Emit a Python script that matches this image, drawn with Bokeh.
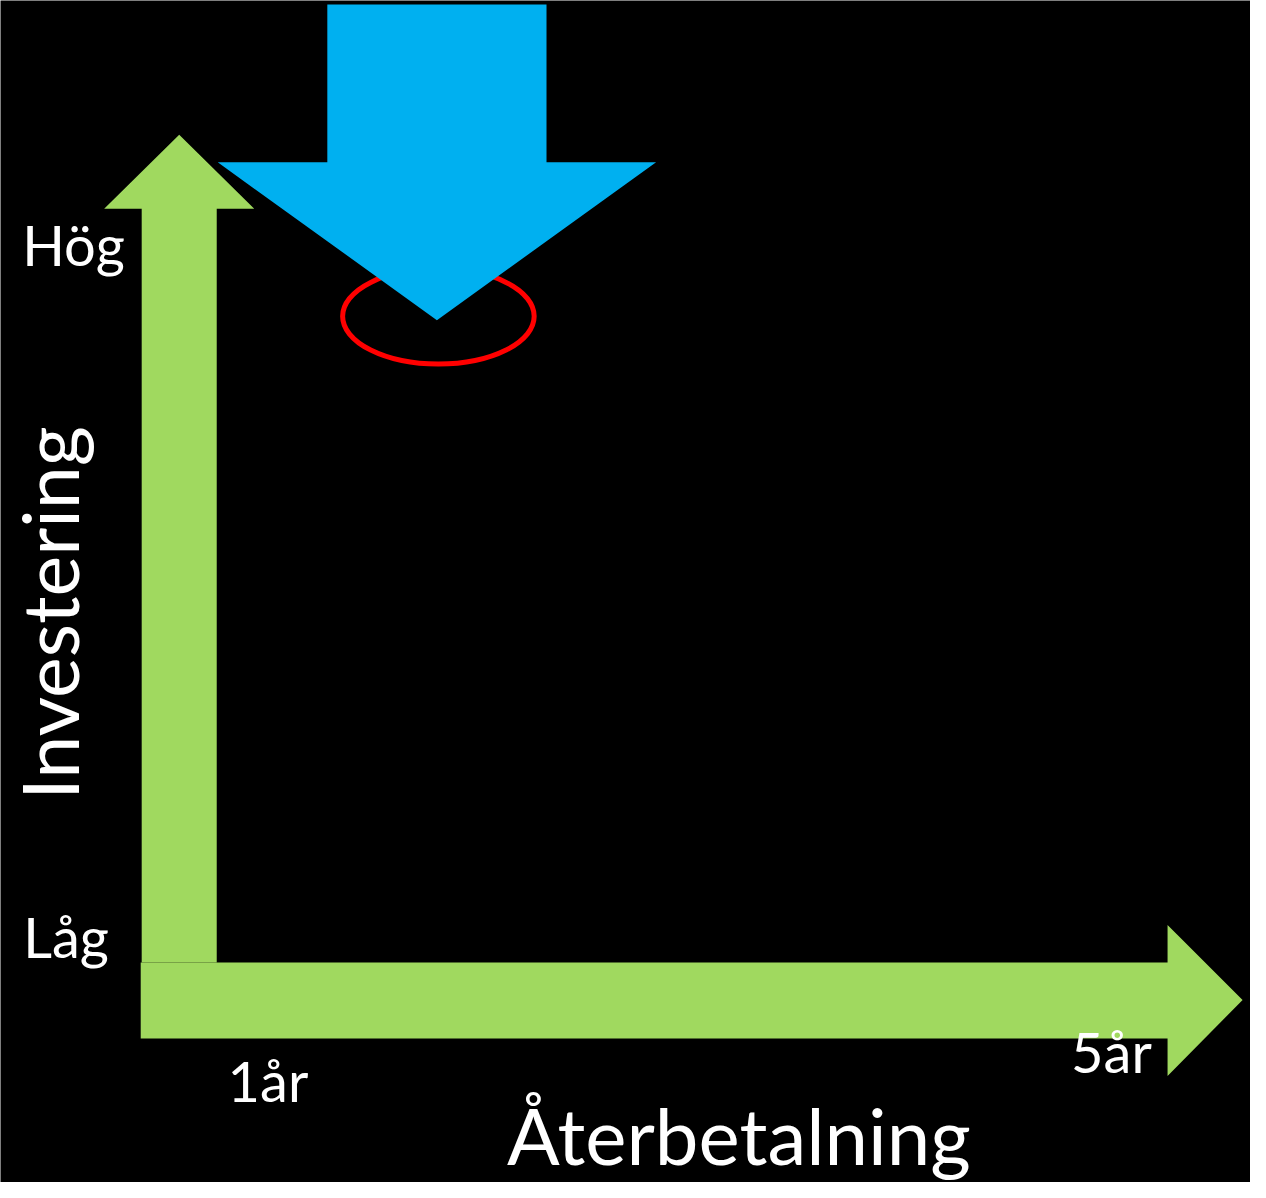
import math
from bokeh.plotting import figure
from bokeh.models import Range1d
from bokeh.core.properties import value
from bokeh.embed import file_html
from bokeh.resources import INLINE

# ---- diagram geometry (reference pixel space) ----
up_arrow_x = [143, 143, 105, 181, 257, 219, 219]
up_arrow_y = [975, 211, 211, 136, 211, 211, 975]
right_arrow_x = [142, 1182, 1182, 1258, 1182, 1182, 142]
right_arrow_y = [975, 975, 937, 1013, 1090, 1052, 1052]
down_arrow_x = [331, 553, 553, 664, 442, 220, 331]
down_arrow_y = [4, 4, 164, 164, 324, 164, 164]
ring_center = (443.5, 320)
ring_size = (194, 97)

# ---- labels ----
y_level_labels = ["Hög", "Låg"]
x_level_labels = ["1år", "5år"]
x_title = "Återbetalning"
y_title = "Investering"

GREEN = "#a0d95f"
BLUE = "#00b0f0"
FONT = "Lato"
W, H = 1250, 1182
REF_W, REF_H = 1266, 1198
S = W / REF_W
BASE_SHIFT = 0.42  # em, baseline correction


def base(pos, px):
    return pos - BASE_SHIFT * px / S


p = figure(width=W, height=H, output_backend="svg", toolbar_location=None,
           x_range=Range1d(0, REF_W), y_range=Range1d(REF_H, 0),
           background_fill_color="black", border_fill_color="black",
           min_border=0)
p.axis.visible = False
p.grid.visible = False
p.outline_line_color = None

p.patch(up_arrow_x, up_arrow_y, fill_color=GREEN, line_color=None)
p.patch(right_arrow_x, right_arrow_y, fill_color=GREEN, line_color=None)
p.ellipse(x=[ring_center[0]], y=[ring_center[1]], width=[ring_size[0]], height=[ring_size[1]],
          fill_color=None, line_color="#ff0000", line_width=5)
p.patch(down_arrow_x, down_arrow_y, fill_color=BLUE, line_color=None)

small = 56
p.text(x=[22, 23], y=[base(271, small), base(972, small)], text=y_level_labels,
       text_color="white", text_font=value(FONT), text_font_size=f"{small}px",
       text_align="left", text_baseline="alphabetic")
p.text(x=[230], y=[base(1118, small)], text=[x_level_labels[0]], text_color="white",
       text_font=value(FONT), text_font_size=f"{small}px", text_align="left",
       text_baseline="alphabetic")
p.text(x=[1166], y=[base(1089, small)], text=[x_level_labels[1]], text_color="white",
       text_font=value(FONT), text_font_size=f"{small}px", text_align="right",
       text_baseline="alphabetic")
big = 78
p.text(x=[513], y=[base(1183, big)], text=[x_title], text_color="white",
       text_font=value(FONT), text_font_size=f"{big}px", text_align="left",
       text_baseline="alphabetic")
vert = 77
p.text(x=[base(82, vert)], y=[810], text=[y_title], text_color="white", angle=math.pi / 2,
       text_font=value(FONT), text_font_size=f"{vert}px", text_align="left",
       text_baseline="alphabetic")

open("out.html", "w").write(file_html(p, INLINE))
